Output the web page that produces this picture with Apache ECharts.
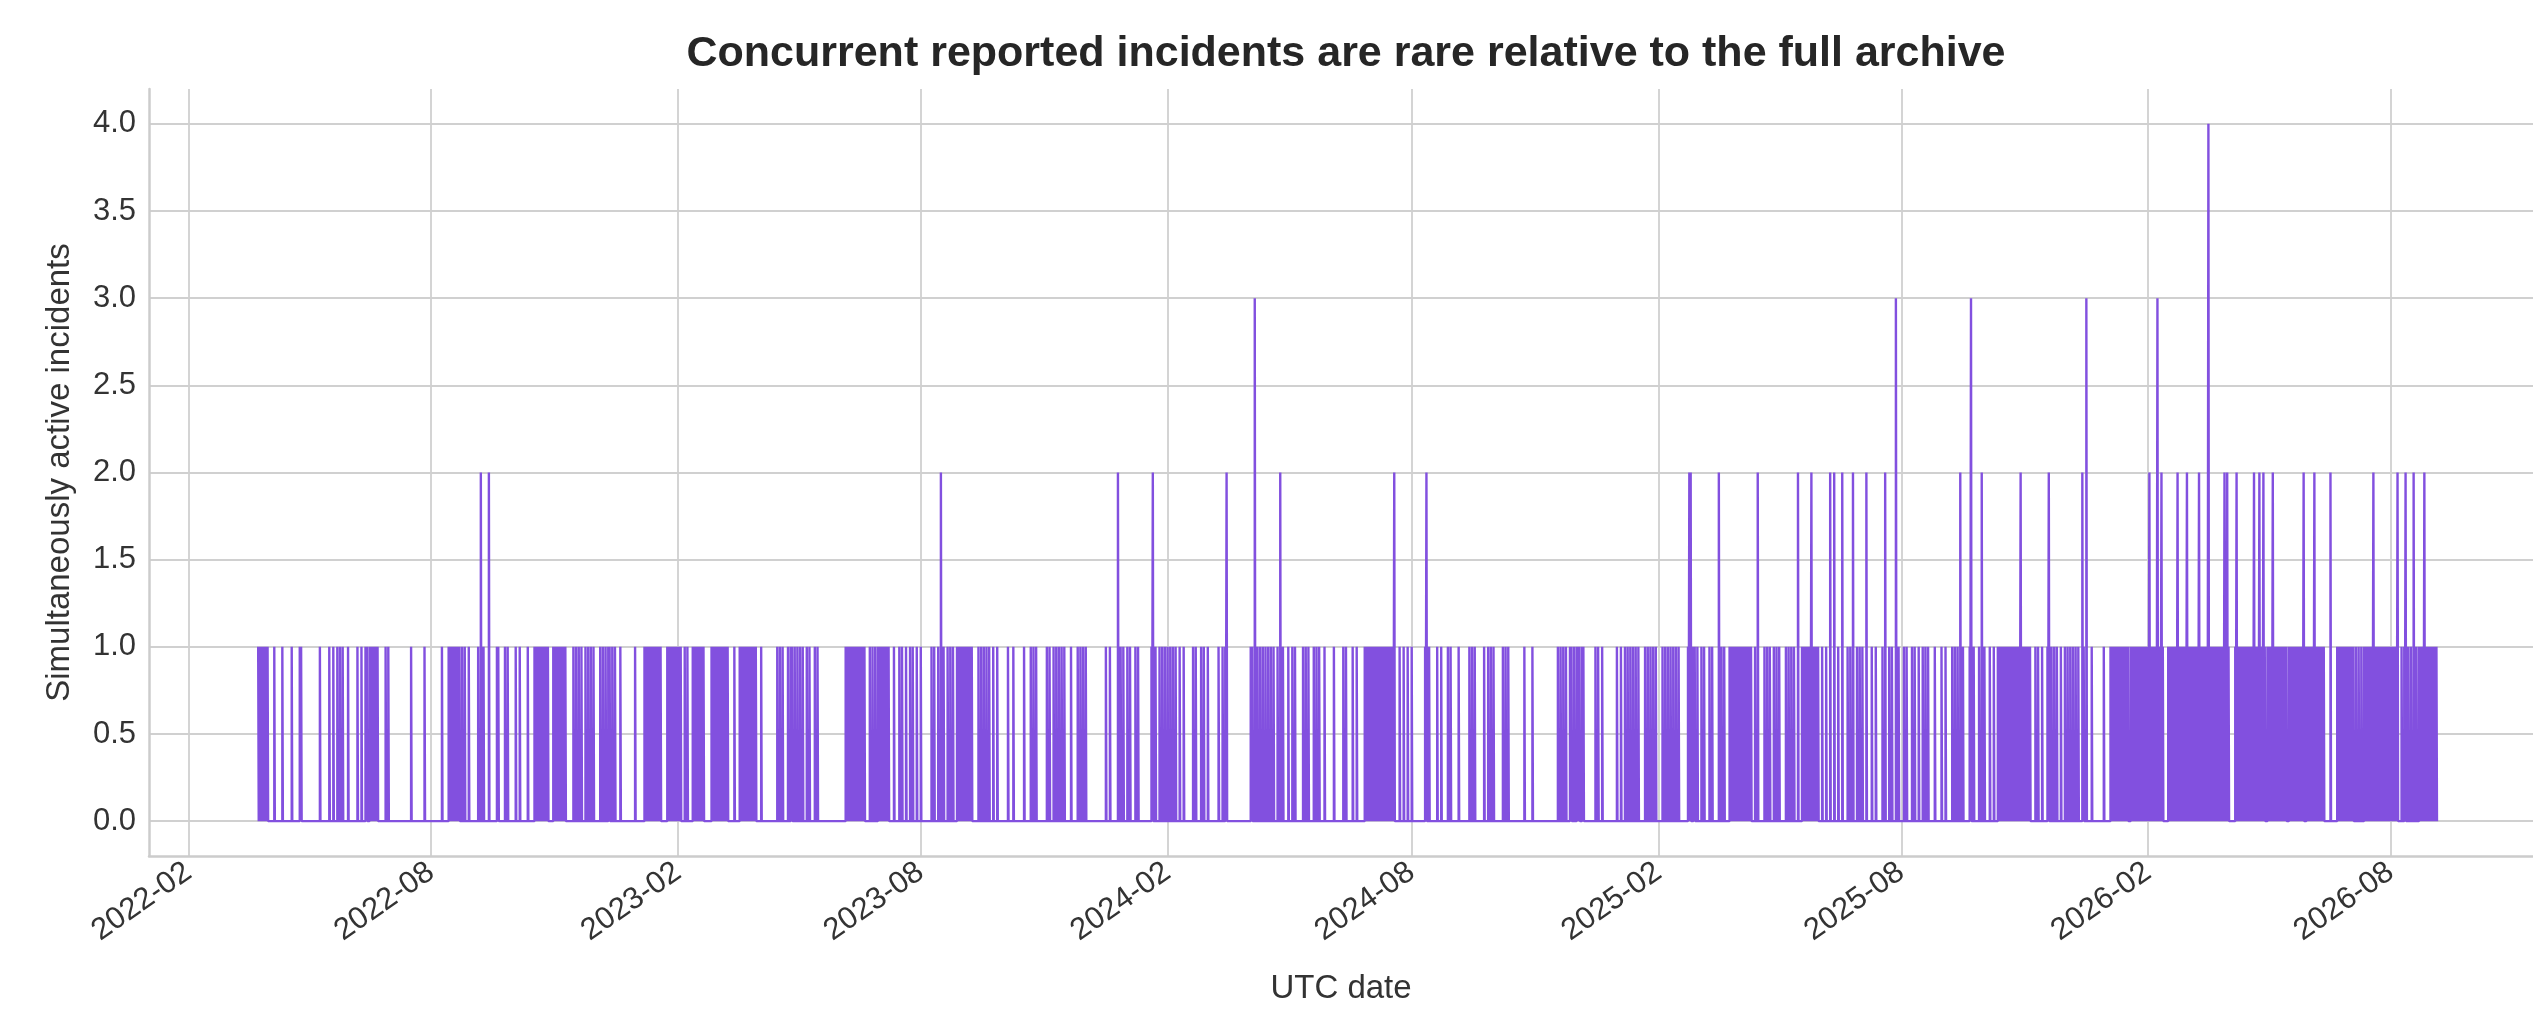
<!DOCTYPE html>
<html>
<head>
<meta charset="utf-8">
<title>Concurrent reported incidents</title>
<script src="https://cdn.jsdelivr.net/npm/echarts@6/dist/echarts.min.js"></script>
<style>
    html, body { margin: 0; padding: 0; background: #ffffff; }
    #chart { width: 2533px; height: 1012px; }
</style>
</head>
<body>
<div id="chart"></div>
<script>
// Incident start days, counted in days from 2022-01-01 (UTC).
// A day listed more than once means incidents that overlapped on that day.
var incidentDays2022 = [
    83, 84, 85, 86, 87, 88, 89, 90, 95, 101, 108, 114, 115, 129, 136, 139, 142, 144, 146, 150,
    157, 160, 163, 164, 166, 167, 168, 169, 170, 171, 172, 178, 180, 197, 207, 220,
    225, 226, 227, 228, 229, 230, 231, 232, 233, 235, 237, 240, 247, 249, 249, 251, 255, 255,
    261, 262, 267, 269, 275, 278, 284, 289, 290, 291, 292, 293, 294, 295, 296, 297, 298, 299,
    303, 304, 305, 306, 307, 308, 309, 310, 311, 312, 318, 320, 322, 324, 327, 329, 331, 333,
    338, 340, 342, 344, 345, 347, 349, 353, 364
];
var incidentDays2023 = [
    371, 372, 373, 374, 375, 376, 377, 378, 379, 380, 381, 382, 383,
    388, 389, 390, 391, 392, 393, 394, 395, 396, 397, 398, 401, 403,
    407, 408, 409, 410, 411, 412, 413, 414, 415,
    421, 422, 423, 424, 425, 426, 427, 428, 429, 430, 431, 432, 433, 438,
    442, 443, 444, 445, 446, 447, 448, 449, 450, 451, 452, 453, 454,
    458, 470, 472, 474, 478, 480, 481, 483, 485, 487, 489, 492, 494, 498, 500,
    521, 522, 523, 524, 525, 526, 527, 528, 529, 530, 531, 532, 533, 534, 535,
    539, 541, 543, 545, 546, 547, 548, 549, 550, 551, 552, 553, 557, 561, 563, 566,
    569, 571, 574, 577, 585, 587, 590, 592, 592, 594, 597, 599, 601,
    604, 605, 606, 607, 608, 609, 610, 611, 612, 613, 614, 615,
    620, 622, 624, 626, 628, 631, 634, 642, 646, 654, 659, 661, 663, 671, 673, 676, 678,
    680, 682, 684, 689, 694, 696, 698, 700, 715, 718, 724, 724, 726, 728
];
var incidentDays2024 = [
    731, 733, 737, 739, 749, 750, 750, 752, 755, 757, 759, 761, 763, 765, 767, 770, 773,
    780, 782, 786, 788, 791, 799, 802, 804, 805, 805,
    823, 824, 826, 826, 826, 828, 830, 832, 834, 836, 838, 840, 843, 845, 845, 847,
    851, 854, 856, 862, 864, 866, 870, 872, 874, 878, 885, 892, 894, 899, 902,
    908, 909, 910, 911, 912, 913, 914, 915, 916, 917, 918,
    919, 920, 921, 922, 923, 924, 925, 926, 927, 928, 929, 930, 930,
    934, 937, 940, 943, 953, 954, 954, 956, 962, 965, 970, 972, 978, 986, 988, 990,
    997, 1000, 1002, 1004, 1011, 1013, 1015, 1027, 1033,
    1052, 1054, 1056, 1058, 1061, 1062, 1064, 1066, 1067, 1068, 1070, 1071, 1080, 1082, 1085
];
var incidentDays2025 = [
    1096, 1099, 1102, 1104, 1106, 1108, 1110, 1112, 1117, 1119, 1121, 1123, 1125,
    1130, 1132, 1134, 1136, 1138, 1140, 1142, 1149, 1150, 1150, 1151, 1151, 1153, 1154, 1156,
    1159, 1161, 1165, 1167, 1172, 1172, 1174, 1176,
    1180, 1181, 1182, 1183, 1184, 1185, 1186, 1187, 1188, 1189, 1190, 1191, 1192, 1193, 1194, 1195, 1196,
    1199, 1201, 1201, 1206, 1208, 1210, 1213, 1215, 1217, 1222, 1224, 1226, 1228, 1231, 1231,
    1234, 1235, 1236, 1237, 1238, 1239, 1240, 1241, 1241, 1242, 1243, 1244, 1245, 1246,
    1249, 1252, 1255, 1255, 1258, 1258, 1261, 1264, 1264, 1268, 1270, 1272, 1272,
    1275, 1277, 1279, 1282, 1282, 1286, 1289, 1294, 1296, 1296, 1299, 1301, 1304, 1304, 1304,
    1306, 1310, 1312, 1316, 1318, 1321, 1324, 1326, 1328, 1333, 1338, 1341,
    1346, 1348, 1350, 1352, 1352, 1354, 1359, 1360, 1360, 1360, 1362, 1366, 1368, 1368, 1370,
    1374, 1377, 1380, 1381, 1382, 1383, 1384, 1385, 1386, 1387, 1388, 1389, 1390, 1391, 1392,
    1393, 1394, 1395, 1396, 1397, 1397, 1398, 1399, 1400, 1401, 1402, 1403, 1404,
    1408, 1410, 1413, 1417, 1418, 1418, 1420, 1422, 1424, 1427, 1430, 1432, 1434, 1436, 1438, 1440,
    1443, 1443, 1444, 1446, 1446, 1446, 1450, 1459
];
var incidentDays2026 = [
    1464, 1465, 1466, 1467, 1468, 1469, 1470, 1471, 1472, 1473, 1474, 1475, 1476, 1477,
    1479, 1480, 1481, 1482, 1483, 1484, 1485, 1486, 1487, 1488, 1489, 1490, 1491,
    1492, 1493, 1493, 1494, 1495, 1496, 1497, 1498, 1499, 1499, 1499, 1500, 1501, 1502, 1502, 1503,
    1507, 1508, 1509, 1510, 1511, 1512, 1513, 1514, 1514, 1515, 1516, 1517, 1518, 1519, 1520,
    1521, 1521, 1522, 1523, 1524, 1525, 1526, 1527, 1528, 1529, 1530, 1530, 1531, 1532, 1533,
    1534, 1535, 1536, 1537, 1537, 1537, 1537, 1538, 1539, 1540, 1541, 1542, 1543, 1544, 1545,
    1546, 1547, 1548, 1549, 1549, 1550, 1551, 1551, 1552,
    1557, 1558, 1558, 1559, 1560, 1561, 1562, 1563, 1564, 1565, 1566, 1567, 1568,
    1569, 1570, 1571, 1571, 1572, 1573, 1574, 1575, 1575, 1576, 1577, 1578, 1578, 1579,
    1581, 1582, 1583, 1584, 1585, 1585, 1586, 1587, 1588, 1589, 1590, 1591, 1592, 1593, 1594, 1595,
    1597, 1598, 1599, 1600, 1601, 1602, 1603, 1604, 1605, 1606, 1607, 1608, 1608,
    1610, 1611, 1612, 1613, 1614, 1615, 1616, 1616, 1617, 1618, 1619, 1620, 1621, 1622, 1623,
    1628, 1628, 1633, 1634, 1635, 1636, 1637, 1638, 1639, 1640, 1641, 1642, 1643, 1644, 1645,
    1647, 1649, 1651, 1653, 1654, 1655, 1656, 1657, 1658, 1659, 1660, 1660, 1661, 1662, 1663,
    1664, 1665, 1666, 1667, 1668, 1669, 1670, 1671, 1672, 1673, 1674, 1675, 1676, 1677, 1678, 1678,
    1681, 1683, 1684, 1684, 1686, 1688, 1690, 1690, 1692, 1694,
    1695, 1696, 1697, 1698, 1698, 1699, 1700, 1701, 1702, 1703, 1704, 1705, 1706, 1707
];
// how long each incident stays open
var incidentHours = 10;

var xTickLabels = ['2022-02', '2022-08', '2023-02', '2023-08', '2024-02', '2024-08',
    '2025-02', '2025-08', '2026-02', '2026-08'];
var yTickValues = [0, 0.5, 1, 1.5, 2, 2.5, 3, 3.5, 4];
// visible date window, days from 2022-01-01
var xWindow = [1.6, 1779];

var DAY = 86400000;
var epoch = Date.UTC(2022, 0, 1);

/**
 * 把事件起止点累加成阶梯序列
 */
function buildSteps() {
    var days = incidentDays2022.concat(incidentDays2023, incidentDays2024,
        incidentDays2025, incidentDays2026);
    var events = [];
    for (var i = 0; i < days.length; i++) {
        var start = epoch + days[i] * DAY;
        events.push([start, 1]);
        events.push([start + incidentHours * 3600000, -1]);
    }
    events.sort(function (a, b) { return a[0] - b[0]; });

    var points = [];
    var level = 0;
    for (var j = 0; j < events.length; j++) {
        level += events[j][1];
        if (j + 1 < events.length && events[j + 1][0] === events[j][0]) {
            continue;
        }
        points.push([events[j][0], level]);
    }
    return points;
}

var xTicks = xTickLabels.map(function (s) {
    var p = s.split('-');
    return Date.UTC(+p[0], +p[1] - 1, 1);
});

function pad(n) {
    return n < 10 ? '0' + n : '' + n;
}

var chart = echarts.init(document.getElementById('chart'), null, {renderer: 'canvas'});
var textColor = '#333333';
var gridColor = '#d0d0d0';
var spineColor = '#cccccc';
var lineColor = '#8250df';

var option = {
    animation: false,
    backgroundColor: '#ffffff',
    textStyle: {fontFamily: 'Liberation Sans'},
    title: {
        text: 'Concurrent reported incidents are rare relative to the full archive',
        left: 1346,
        top: 33,
        textAlign: 'center',
        padding: 0,
        textStyle: {
            fontFamily: 'Liberation Sans',
            fontSize: 43,
            fontWeight: 'bold',
            color: '#262626'
        }
    },
    grid: {
        left: 149,
        right: 0,
        top: 89,
        bottom: 156
    },
    xAxis: {
        // timestamps on a plain value axis, labelled as year-month
        type: 'value',
        min: epoch + xWindow[0] * DAY,
        max: epoch + xWindow[1] * DAY,
        name: 'UTC date',
        nameLocation: 'middle',
        nameGap: 116,
        nameTextStyle: {fontFamily: 'Liberation Sans', fontSize: 33, color: textColor},
        axisLine: {show: true, onZero: false, lineStyle: {color: spineColor, width: 2.5}},
        axisTick: {show: false, customValues: xTicks},
        axisLabel: {
            customValues: xTicks,
            rotate: 35,
            margin: 13,
            showMinLabel: true,
            showMaxLabel: true,
            hideOverlap: false,
            fontFamily: 'Liberation Sans',
            fontSize: 31,
            color: textColor,
            formatter: function (value) {
                var d = new Date(value);
                return d.getUTCFullYear() + '-' + pad(d.getUTCMonth() + 1);
            }
        },
        splitLine: {show: true, lineStyle: {color: gridColor, width: 1.8}}
    },
    yAxis: {
        type: 'value',
        min: -0.2,
        max: 4.2,
        name: 'Simultaneously active incidents',
        nameLocation: 'middle',
        nameGap: 73,
        nameTextStyle: {fontFamily: 'Liberation Sans', fontSize: 33, color: textColor},
        axisLine: {show: true, lineStyle: {color: spineColor, width: 2.5}},
        axisTick: {show: false, customValues: yTickValues},
        axisLabel: {
            customValues: yTickValues,
            margin: 13,
            fontFamily: 'Liberation Sans',
            fontSize: 31,
            color: textColor,
            formatter: function (v) {
                return v.toFixed(1);
            }
        },
        splitLine: {show: true, lineStyle: {color: gridColor, width: 1.8}}
    },
    series: [
        {
            name: 'active incidents',
            type: 'line',
            step: 'end',
            data: buildSteps(),
            showSymbol: false,
            symbol: 'none',
            silent: true,
            lineStyle: {color: lineColor, width: 2.4},
            itemStyle: {color: lineColor}
        }
    ]
};

chart.setOption(option);
</script>
</body>
</html>
